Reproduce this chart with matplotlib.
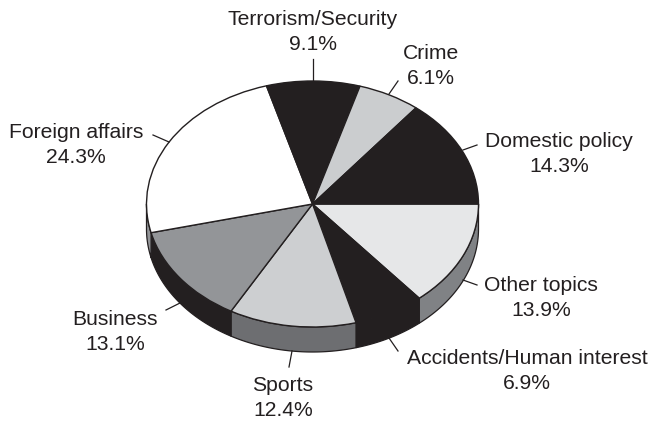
import matplotlib
matplotlib.use("Agg")
import matplotlib.pyplot as plt
import numpy as np

plt.rcParams['font.family'] = ['Liberation Sans', 'DejaVu Sans']

topics = ["Other topics", "Accidents/Human interest", "Sports", "Business",
          "Foreign affairs", "Terrorism/Security", "Crime", "Domestic policy"]
shares = [13.9, 6.9, 12.4, 13.1, 24.3, 9.1, 6.1, 14.3]
top_colors = ["#e6e7e8", "#231f20", "#cdcfd1", "#939598",
              "#ffffff", "#231f20", "#cbcdcf", "#231f20"]
side_colors = ["#808285", "#231f20", "#6d6e71", "#231f20",
               "#939598", "#231f20", "#cbcdcf", "#231f20"]

# label centres and leader lines, in pixels from the top left
label_pos = [(541, 298), (527, 371), (283, 398), (115, 332),
             (76, 145), (313, 32), (431, 66), (559, 154)]
leaders = [((477, 285), (463, 280)), ((398, 351), (389, 338)),
           ((289, 367), (292, 351)), ((166, 310), (180, 303)),
           ((153, 135), (169, 142)), ((313, 59), (313, 80)),
           ((398, 81), (389, 94)), ((477, 145), (463, 150))]

CX, CY = 312.5, 204.0
RX, RY = 166.0, 123.0
DEPTH = 25.0 / RY


def px(x, y):
    # pixel position to the unit circle coordinates of the pie
    return (x - CX) / RX, (CY - y) / RY


fig = plt.figure(figsize=(6.52, 4.21), dpi=100)
ax = fig.add_axes([0, 0, 1, 1])

# side wall of the disc, only the part of each slice facing the viewer
edges = np.cumsum([0] + shares) / sum(shares) * 360
for i in range(len(shares)):
    start, end = edges[i], min(edges[i + 1], 180)
    if start >= 180:
        continue
    t = np.radians(np.linspace(start, end, 60))
    xs = np.cos(t)
    ys = -np.sin(t)
    ax.fill(np.r_[xs, xs[::-1]], np.r_[ys, ys[::-1] - DEPTH],
            facecolor=side_colors[i], edgecolor="#231f20", linewidth=0.9, zorder=1)

wedges, _ = ax.pie(shares, colors=top_colors, startangle=0, counterclock=False,
                   wedgeprops={"edgecolor": "#231f20", "linewidth": 1.0})
for w in wedges:
    w.set_zorder(2)

ax.set_aspect("auto")
ax.set_xlim(px(0, 0)[0], px(652, 0)[0])
ax.set_ylim(px(0, 421)[1], px(0, 0)[1])
ax.axis("off")

for (p0, p1) in leaders:
    x0, y0 = px(*p0)
    x1, y1 = px(*p1)
    ax.plot([x0, x1], [y0, y1], color="#231f20", linewidth=0.9, zorder=3)

for name, share, pos in zip(topics, shares, label_pos):
    x, y = px(*pos)
    ax.text(x, y, f"{name}\n{share}%", ha="center", va="center", fontsize=15.2,
            color="#231f20", linespacing=1.36, zorder=4)

fig.savefig("out.png", dpi=100, facecolor="white")
